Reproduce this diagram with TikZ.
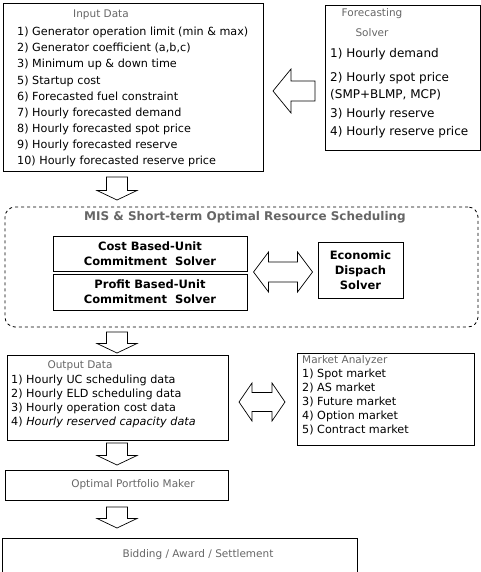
\documentclass[tikz,border=0pt]{standalone}
\usepackage{fontspec}
\setmainfont{DejaVu Sans}
\usetikzlibrary{positioning,fit}

\tikzset{
  panel/.style={draw, line width=0.8pt, inner sep=0pt},
  headtxt/.style={font=\fontsize{10.5}{13}\selectfont, text=black!60, inner sep=0pt},
  itemtxt/.style={font=\fontsize{11.2}{13}\selectfont, inner sep=0pt, anchor=west, text height=8.2pt, text depth=2.6pt},
  bigitem/.style={itemtxt, font=\fontsize{12}{14}\selectfont},
  solvertxt/.style={font=\bfseries\fontsize{11.5}{15}\selectfont, align=center, inner sep=0pt},
  blockline/.style={draw, line width=0.7pt, line join=miter},
  % hollow block arrows
  pics/downblock/.style={code={
    \draw[blockline] (-10.5,0) -- (10.5,0) -- (10.5,#1-9.5) -- (20,#1-9.5) -- (0,#1)
      -- (-20,#1-9.5) -- (-10.5,#1-9.5) -- cycle;}},
  pics/leftblock/.style={code={
    \draw[blockline] (0,0) -- (18,-22) -- (18,-10) -- (42,-10) -- (42,10) -- (18,10) -- (18,22) -- cycle;}},
  pics/twoway/.style n args={4}{code={
    \draw[blockline] (-#1/2,0) -- (-#1/2+#4,-#2) -- (-#1/2+#4,-#3) -- (#1/2-#4,-#3) -- (#1/2-#4,-#2)
      -- (#1/2,0) -- (#1/2-#4,#2) -- (#1/2-#4,#3) -- (-#1/2+#4,#3) -- (-#1/2+#4,#2) -- cycle;}}
}

\begin{document}
\begin{tikzpicture}[x=1pt,y=-1pt]
  \useasboundingbox (0,0) rectangle (481,572);
  \clip (0,0) rectangle (481,572);

  % input data
  \coordinate (inA) at (3,3);
  \coordinate (inB) at (263,171);
  \node[panel, fit=(inA) (inB)] (input) {};
  \node[headtxt] (inTitle) at (101,15) {Input Data};
  \foreach \t [count=\k] in {1) Generator operation limit (min \& max),
      {2) Generator coefficient (a,b,c)}, 3) Minimum up \& down time,
      5) Startup cost, 6) Forecasted fuel constraint, 7) Hourly forecasted demand,
      8) Hourly forecasted spot price, 9) Hourly forecasted reserve,
      10) Hourly forecasted reserve price}
    \node[itemtxt] (in\k) at (17,{33+16.1*(\k-1)}) {\t};

  % forecasting solver
  \coordinate (fcA) at (325,5);
  \coordinate (fcB) at (480,150);
  \node[panel, fit=(fcA) (fcB)] (fcst) {};
  \node[headtxt] (fcTitle) at (372,14) {Forecasting};
  \node[headtxt] (fcTitleb) at (372,33) {Solver};
  \node[bigitem] (fc1) at (330,55) {1) Hourly demand};
  \node[bigitem] (fc2) at (330,79) {2) Hourly spot price};
  \node[bigitem] (fc2b) at (330,96) {(SMP+BLMP, MCP)};
  \node[bigitem] (fc3) at (330,115) {3) Hourly reserve};
  \node[bigitem] (fc4) at (330,133) {4) Hourly reserve price};
  \pic (toInput) at (273,91) {leftblock};

  \pic (dn1) at (117,177) {downblock=23};

  % scheduling block
  \coordinate (msA) at (5,207);
  \coordinate (msB) at (478,327);
  \node[panel, dashed, rounded corners=10pt, fit=(msA) (msB)] (mis) {};
  \node[headtxt, font=\bfseries\fontsize{12}{14}\selectfont] (misTitle) at (245,217)
    {MIS \& Short-term Optimal Resource Scheduling};
  \coordinate (cbA) at (53,236);
  \coordinate (cbB) at (247,271);
  \node[panel, fit=(cbA) (cbB)] (cost) {};
  \node[solvertxt] (costTxt) at (cost.center) {Cost Based-Unit\\Commitment\ \ Solver};
  \coordinate (pbA) at (53,274);
  \coordinate (pbB) at (247,310);
  \node[panel, fit=(pbA) (pbB)] (profit) {};
  \node[solvertxt] (profitTxt) at (profit.center) {Profit Based-Unit\\Commitment\ \ Solver};
  \coordinate (edA) at (318,242);
  \coordinate (edB) at (403,298);
  \node[panel, fit=(edA) (edB)] (econ) {};
  \node[solvertxt] (econTxt) at (econ.center) {Economic\\Dispach\\Solver};
  \pic (dbl1) at (283,272) {twoway={59}{20}{10}{15}};

  \pic (dn2) at (117,332) {downblock=21};

  % output data
  \coordinate (outA) at (7,355);
  \coordinate (outB) at (228,440);
  \node[panel, fit=(outA) (outB)] (output) {};
  \node[headtxt] (outTitle) at (80,366) {Output Data};
  \node[itemtxt] (out1) at (11,381) {1) Hourly UC scheduling data};
  \node[itemtxt] (out2) at (11,395) {2) Hourly ELD scheduling data};
  \node[itemtxt] (out3) at (11,409) {3) Hourly operation cost data};
  \node[itemtxt] (out4) at (11,423) {4) \textit{Hourly reserved capacity data}};

  % market analyzer
  \coordinate (mkA) at (297,353);
  \coordinate (mkB) at (474,445);
  \node[panel, fit=(mkA) (mkB)] (market) {};
  \node[headtxt, anchor=west] (mkTitle) at (302,361) {Market Analyzer};
  \foreach \t [count=\k] in {1) Spot market, 2) AS market, 3) Future market,
      4) Option market, 5) Contract market}
    \node[itemtxt] (mk\k) at (302,{374.5+14*(\k-1)}) {\t};
  \pic (dbl2) at (262,402) {twoway={46}{19}{9.5}{13}};

  \pic (dn3) at (117,443) {downblock=22};

  \coordinate (opA) at (5,470);
  \coordinate (opB) at (228,500);
  \node[panel, fit=(opA) (opB)] (optimal) {};
  \node[headtxt] (opTxt) at (133,485) {Optimal Portfolio Maker};

  \pic (dn4) at (117,507) {downblock=21};

  \coordinate (bdA) at (2,538);
  \coordinate (bdB) at (357,580);
  \node[panel, fit=(bdA) (bdB)] (bidding) {};
  \node[headtxt] (bdTxt) at (198,555) {Bidding / Award / Settlement};
\end{tikzpicture}
\end{document}
